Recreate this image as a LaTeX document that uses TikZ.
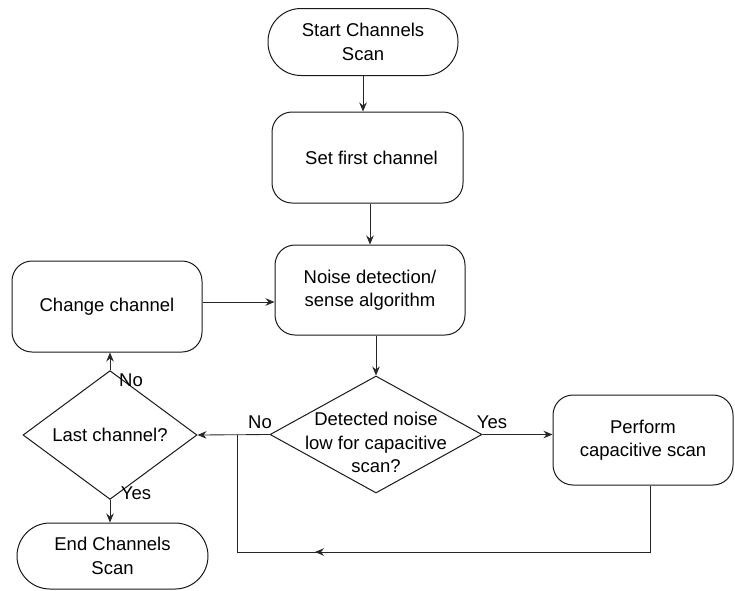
\documentclass[tikz,border=0pt]{standalone}
\usepackage{fontspec}
\setmainfont{Liberation Sans}
\usetikzlibrary{shapes.geometric,arrows.meta}
\begin{document}
\begin{tikzpicture}[x=1pt,y=-1pt,
  every node/.style={font=\fontsize{18.5}{23.5}\selectfont, align=center, inner sep=0pt},
  line/.style={line width=0.85pt, draw=black!85},
  arr/.style={line, -{Stealth[length=9pt,width=7.5pt,inset=3pt]}},
  proc/.style={draw=black!90, line width=1pt, rectangle, rounded corners=20pt},
  term/.style={draw=black!90, line width=1pt, rectangle, rounded corners=33pt},
  dec/.style={draw=black!90, line width=1pt, diamond},
  lbl/.style={font=\fontsize{18.5}{22}\selectfont}
]
\useasboundingbox (0,0) rectangle (735,590);

\node[term, minimum width=190pt, minimum height=67pt] (start) at (363,42) {Start Channels\\Scan};
\node[proc, minimum width=191pt, minimum height=91pt] (set) at (367.5,157.5) {\hspace*{8pt}Set first channel};
\node[proc, minimum width=190pt, minimum height=90pt] (noise) at (370,290) {Noise detection/\\sense algorithm};
\node[proc, minimum width=190pt, minimum height=91pt] (change) at (107,306.5) {Change channel};
\node[dec, minimum width=212pt, minimum height=117pt,
  label={[name=dtext, align=center, yshift=-8pt]center:Detected noise\\low for capacitive\\scan?}] (detect) at (376,434.5) {};
\node[proc, minimum width=180pt, minimum height=90pt] (perform) at (643,440) {Perform\\capacitive scan};
\node[dec, minimum width=174pt, minimum height=94pt] (last) at (110,435) {Last channel?};
\node[term, minimum width=191pt, minimum height=66pt] (end) at (112.5,556) {End Channels\\Scan};

\coordinate (c1) at (650,552);
\coordinate (c2) at (237,552);
\coordinate (c3) at (237,434.5);

\draw[arr] (start.south) -- (set.north -| start.south);
\draw[arr] (set.south -| noise.north) -- (noise.north);
\draw[arr] (noise.south -| detect.north) -- (detect.north);
\draw[arr] (change.east |- 0,302) -- (noise.west |- 0,302);
\draw[arr] (detect.east) -- (perform.west |- detect.east);
\draw[arr] (detect.west) -- (last.east);
\draw[arr] (last.north) -- (change.south -| last.north);
\draw[arr] (last.south) -- (end.north -| last.south);
\draw[line] (perform.south -| c1) -- (c1) -- (c2) -- (c3);
\draw[arr] (c1) -- (315,552);

\node[lbl] (yes1) at (492,422) {Yes};
\node[lbl] (no1) at (260,422) {No};
\node[lbl] (no2) at (131,380) {No};
\node[lbl] (yes2) at (136,493) {Yes};
\end{tikzpicture}
\end{document}
